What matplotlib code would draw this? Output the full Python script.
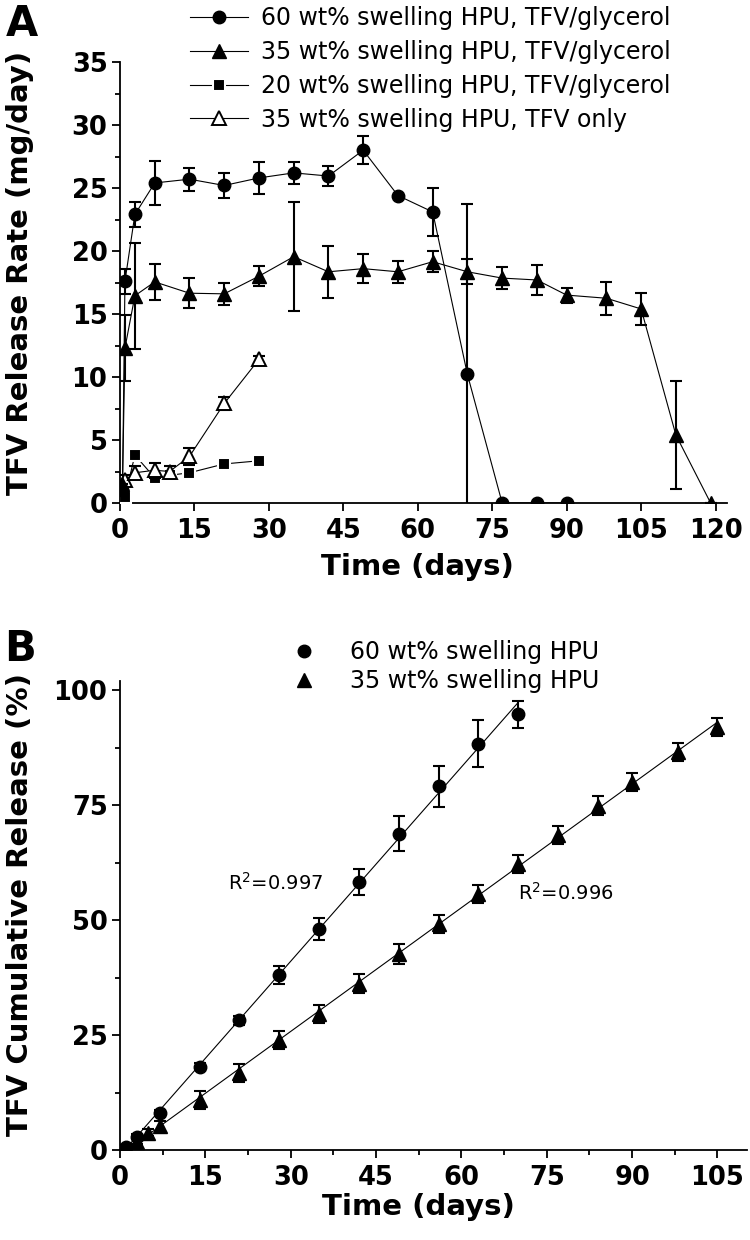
import numpy as np
import matplotlib
matplotlib.use('Agg')
import matplotlib.pyplot as plt
from matplotlib.lines import Line2D
from matplotlib.ticker import MultipleLocator

plt.rcParams['font.family'] = ['DejaVu Sans']

# ---------------- Panel A data (release rate, mg/day) ----------------
a60_days = [0.5, 1, 3, 7, 14, 21, 28, 35, 42, 49, 56, 63, 70, 77, 84, 90]
a60_rate = [1.0, 17.6, 22.9, 25.4, 25.7, 25.2, 25.8, 26.2, 25.95, 28.0, 24.4, 23.1, 10.2, 0, 0, 0]
a60_err = [0, 1.0, 1.0, 1.75, 0.9, 1.0, 1.25, 0.9, 0.8, 1.1, 0, 1.9, 13.5, 0, 0, 0]

a35_days = [0.5, 1, 3, 7, 14, 21, 28, 35, 42, 49, 56, 63, 70, 77, 84, 90, 98, 105, 112, 119]
a35_rate = [1.5, 12.3, 16.45, 17.55, 16.65, 16.6, 18.0, 19.55, 18.35, 18.6, 18.35, 19.15,
            18.35, 17.85, 17.7, 16.5, 16.25, 15.4, 5.4, 0]
a35_err = [0, 2.6, 4.2, 1.4, 1.2, 0.9, 0.8, 4.3, 2.05, 1.15, 0.85, 0.85, 1.0, 0.9, 1.2,
           0.6, 1.3, 1.3, 4.3, 0]

a20_days = [1, 3, 7, 10, 14, 21, 28]
a20_rate = [0.5, 3.8, 2.0, 2.2, 2.4, 3.1, 3.35]
a20_err = [0.3, 0.4, 0.3, 0.2, 0.2, 0.1, 0.1]

a35o_days = [1, 3, 7, 10, 14, 21, 28]
a35o_rate = [1.8, 2.4, 2.6, 2.5, 3.7, 7.9, 11.4]
a35o_err = [0.4, 0.5, 0.6, 0.4, 0.7, 0.5, 0.3]

labels_a = ["60 wt% swelling HPU, TFV/glycerol",
            "35 wt% swelling HPU, TFV/glycerol",
            "20 wt% swelling HPU, TFV/glycerol",
            "35 wt% swelling HPU, TFV only"]

# ---------------- Panel B data (cumulative release, %) ----------------
b60_days = [1, 3, 7, 14, 21, 28, 35, 42, 49, 56, 63, 70]
b60_cum = [0.7, 2.9, 8.1, 18.1, 28.2, 38.0, 48.0, 58.3, 68.8, 79.1, 88.4, 94.8]
b60_err = [0.3, 0.5, 0.6, 0.8, 1.0, 2.0, 2.4, 2.9, 3.75, 4.5, 5.1, 2.95]

b35_days = [1, 3, 5, 7, 14, 21, 28, 35, 42, 49, 56, 63, 70, 77, 84, 90, 98, 105]
b35_cum = [0.5, 1.8, 3.8, 5.2, 10.9, 16.8, 23.9, 29.6, 36.2, 42.6, 49.1, 55.65,
           62.2, 68.5, 74.9, 80.1, 86.6, 92.0]
b35_err = [0.3, 0.5, 0.8, 1.0, 2.0, 2.0, 2.0, 2.0, 2.0, 2.2, 2.0, 2.0, 2.0, 2.0,
           2.0, 2.0, 2.0, 2.0]

labels_b = ["60 wt% swelling HPU", "35 wt% swelling HPU"]
r2_b = ["0.997", "0.996"]

W, H = 750, 1240
fig = plt.figure(figsize=(W / 100, H / 100), dpi=100)

axA = fig.add_axes([120 / W, 1 - 503 / H, (727 - 120) / W, (503 - 62) / H])
axB = fig.add_axes([120 / W, 1 - 1150 / H, (747 - 120) / W, (1150 - 681) / H])

TICKFS = 18.5
LABFS = 21
LEGFS = 17


def style_axis(ax):
    for s in ['top', 'right']:
        ax.spines[s].set_visible(False)
    for s in ['left', 'bottom']:
        ax.spines[s].set_linewidth(1.3)
    ax.tick_params(which='major', direction='out', length=6, width=1.3,
                   labelsize=TICKFS, pad=3)
    ax.tick_params(axis='x', which='major', pad=5)
    ax.tick_params(which='minor', direction='out', length=3.5, width=1.3)
    for lab in ax.get_xticklabels() + ax.get_yticklabels():
        lab.set_fontweight('bold')


def series(ax, x, y, e, marker, ms, mfc='k', mec='k', mew=1.0, z=3):
    ax.errorbar(x, y, yerr=e, fmt='none', ecolor='k', elinewidth=1.5,
                capsize=4, capthick=1.5, zorder=z)
    ax.plot(x, y, '-', color='k', lw=0.8, marker=marker, ms=ms, mfc=mfc,
            mec=mec, mew=mew, zorder=z + 0.5)


# ---------------- Panel A ----------------
series(axA, a20_days, a20_rate, a20_err, 's', 8.5, mec='white', mew=1.5, z=3)
series(axA, a35o_days, a35o_rate, a35o_err, '^', 10, mfc='white', mec='k', mew=1.4, z=4)
series(axA, a35_days, a35_rate, a35_err, '^', 10.5, z=5)
series(axA, a60_days, a60_rate, a60_err, 'o', 9, z=6)

axA.set_xlim(0, 122.3)
axA.set_ylim(0, 35)
axA.xaxis.set_major_locator(MultipleLocator(15))
axA.yaxis.set_major_locator(MultipleLocator(5))
axA.yaxis.set_minor_locator(MultipleLocator(2.5))
style_axis(axA)
axA.set_xlabel("Time (days)", fontsize=LABFS, fontweight='bold')
axA.xaxis.set_label_coords((417.5 - 120) / 607, (503 - 553) / 441)
axA.xaxis.label.set_va('top')

handles_a = [
    Line2D([], [], color='k', lw=0.8, marker='o', ms=9),
    Line2D([], [], color='k', lw=0.8, marker='^', ms=10.5),
    Line2D([], [], color='k', lw=0.8, marker='s', ms=8.5, mec='white', mew=1.5),
    Line2D([], [], color='k', lw=0.8, marker='^', ms=10, mfc='white', mew=1.4),
]
fig.legend(handles_a, labels_a, loc='upper left',
           bbox_to_anchor=(190 / W, 1 - 6 / H), frameon=False,
           fontsize=LEGFS, handlelength=2.45, handletextpad=0.55,
           labelspacing=0.42, borderpad=0, borderaxespad=0)

fig.text(6 / W, 1 - 36 / H, "A", fontsize=30, fontweight='bold',
         ha='left', va='baseline')
fig.text(20 / W, 1 - 273 / H, "TFV Release Rate (mg/day)", rotation=90,
         fontsize=LABFS, fontweight='bold', ha='center', va='center')

# ---------------- Panel B ----------------
for days, vals in [(b60_days, b60_cum), (b35_days, b35_cum)]:
    k, b = np.polyfit(days, vals, 1)
    xs = np.array([0.0, days[-1]])
    axB.plot(xs, k * xs + b, color='k', lw=0.8, zorder=2)

axB.errorbar(b60_days, b60_cum, yerr=b60_err, fmt='none', ecolor='k',
             elinewidth=1.5, capsize=4, capthick=1.5, zorder=3)
axB.plot(b60_days, b60_cum, 'o', color='k', ms=9, zorder=4)
axB.errorbar(b35_days, b35_cum, yerr=b35_err, fmt='none', ecolor='k',
             elinewidth=1.5, capsize=4, capthick=1.5, zorder=3)
axB.plot(b35_days, b35_cum, '^', color='k', ms=10.5, zorder=4)

axB.text(19, 58, "R$^2$=" + r2_b[0], fontsize=14, ha='left', va='center')
axB.text(70, 55.9, "R$^2$=" + r2_b[1], fontsize=14, ha='left', va='center')

axB.set_xlim(0, 110.2)
axB.set_ylim(0, 102)
axB.xaxis.set_major_locator(MultipleLocator(15))
axB.xaxis.set_minor_locator(MultipleLocator(7.5))
axB.yaxis.set_major_locator(MultipleLocator(25))
axB.yaxis.set_minor_locator(MultipleLocator(12.5))
style_axis(axB)
axB.set_xlabel("Time (days)", fontsize=LABFS, fontweight='bold')
axB.xaxis.set_label_coords((418 - 120) / 627, (1150 - 1193) / 469)
axB.xaxis.label.set_va('top')

handles_b = [Line2D([], [], ls='none', color='k', marker='o', ms=9),
             Line2D([], [], ls='none', color='k', marker='^', ms=10.5)]
fig.legend(handles_b, labels_b, loc='upper left',
           bbox_to_anchor=(292 / W, 1 - 640 / H), frameon=False,
           fontsize=LEGFS, handlelength=1.0, handletextpad=1.45,
           labelspacing=0.22, borderpad=0, borderaxespad=0)

fig.text(4 / W, 1 - 661 / H, "B", fontsize=30, fontweight='bold',
         ha='left', va='baseline')
fig.text(20 / W, 1 - 905 / H, "TFV Cumulative Release (%)", rotation=90,
         fontsize=LABFS, fontweight='bold', ha='center', va='center')

fig.savefig("out.png", dpi=100)
